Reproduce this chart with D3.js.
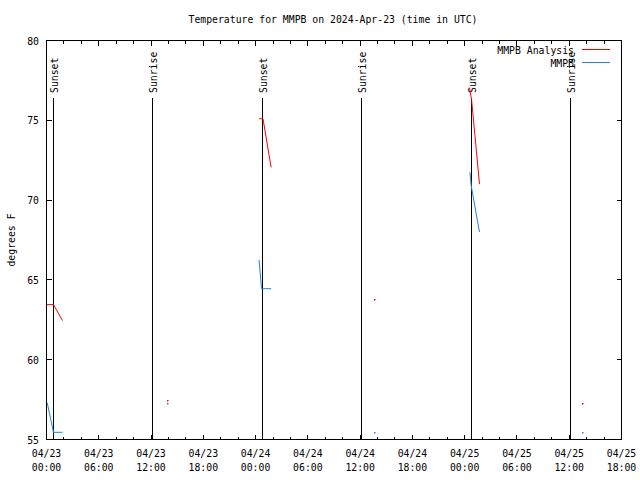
<!DOCTYPE html>
<html>
<head>
<meta charset="utf-8">
<script src="https://cdn.jsdelivr.net/npm/d3@7"></script>
<style>
  html, body { margin: 0; padding: 0; background: #fff; }
  svg { display: block; }
  text { font-family: "DejaVu Sans Mono", "Liberation Mono", monospace; font-size: 9.8px; fill: #000; }
</style>
</head>
<body>
<svg id="chart" width="640" height="480"></svg>
<script>
// ---- data ----
const titleText = "Temperature for MMPB on 2024-Apr-23 (time in UTC)";
const yLabel = "degrees F";
const seriesNames = ["MMPB Analysis", "MMPB"];
const seriesColors = ["#ff0000", "#1e82e8"];

// null marks a break in the line
const analysisTimes = ["2024-04-23T00:00","2024-04-23T00:48","2024-04-23T01:50", null,
  "2024-04-23T13:54", null,
  "2024-04-24T00:24","2024-04-24T00:51","2024-04-24T01:47", null,
  "2024-04-24T13:42", null,
  "2024-04-25T00:33","2024-04-25T00:48","2024-04-25T01:42", null,
  "2024-04-25T13:33"];
const analysisValues = [63.45, 63.45, 62.45, null,
  57.45, null,
  75.1, 75.1, 72.05, null,
  63.8, null,
  77.05, 76.25, 71.0, null,
  57.25];

const mmpbTimes = ["2024-04-23T00:05","2024-04-23T00:48","2024-04-23T01:50", null,
  "2024-04-23T13:54", null,
  "2024-04-24T00:24","2024-04-24T00:41","2024-04-24T01:47", null,
  "2024-04-24T13:42", null,
  "2024-04-25T00:36","2024-04-25T00:45","2024-04-25T01:42", null,
  "2024-04-25T13:33"];
const mmpbValues = [57.3, 55.45, 55.45, null,
  57.25, null,
  66.25, 64.45, 64.45, null,
  55.45, null,
  71.75, 70.9, 68.0, null,
  55.45];

const sunTimes = ["2024-04-23T00:47","2024-04-23T12:09","2024-04-24T00:46","2024-04-24T12:08","2024-04-25T00:45","2024-04-25T12:07"];
const sunLabels = ["Sunset","Sunrise","Sunset","Sunrise","Sunset","Sunrise"];

const xDomain = ["2024-04-23T00:00","2024-04-25T18:00"];
const yDomain = [55, 80];
const yTicks = [55, 60, 65, 70, 75, 80];

// ---- layout ----
const L = 46.5, R = 621.5, T = 40.5, B = 439.5;
const parse = s => new Date(s + ":00Z");

const svg = d3.select("#chart");
const x = d3.scaleUtc().domain(xDomain.map(parse)).range([L, R]);
const y = d3.scaleLinear().domain(yDomain).range([B, T]);

svg.append("defs").append("clipPath").attr("id", "clip")
  .append("rect").attr("x", L).attr("y", T).attr("width", R - L).attr("height", B - T);

// title
svg.append("text").attr("x", 333).attr("y", 23).attr("text-anchor", "middle").text(titleText);

// y label
svg.append("text").attr("transform", "translate(15,240) rotate(-90)")
  .attr("text-anchor", "middle").text(yLabel);

// ticks
const majorX = d3.utcHour.every(6).range(parse(xDomain[0]), d3.utcMinute.offset(parse(xDomain[1]), 1));
const minorX = d3.utcHour.every(2).range(parse(xDomain[0]), d3.utcMinute.offset(parse(xDomain[1]), 1))
  .filter(d => d.getUTCHours() % 6 !== 0);

const tg = svg.append("g").attr("stroke", "#000").attr("stroke-width", 1).attr("shape-rendering", "crispEdges");
majorX.forEach(d => {
  const xx = Math.round(x(d) - 0.5) + 0.5;
  tg.append("line").attr("x1", xx).attr("x2", xx).attr("y1", B).attr("y2", B - 5);
  tg.append("line").attr("x1", xx).attr("x2", xx).attr("y1", T).attr("y2", T + 5);
});
minorX.forEach(d => {
  const xx = Math.round(x(d) - 0.5) + 0.5;
  tg.append("line").attr("x1", xx).attr("x2", xx).attr("y1", B).attr("y2", B - 3);
  tg.append("line").attr("x1", xx).attr("x2", xx).attr("y1", T).attr("y2", T + 3);
});
yTicks.forEach(v => {
  const yy = Math.round(y(v) - 0.5) + 0.5;
  tg.append("line").attr("x1", L).attr("x2", L + 5).attr("y1", yy).attr("y2", yy);
  tg.append("line").attr("x1", R).attr("x2", R - 5).attr("y1", yy).attr("y2", yy);
});

// tick labels
const fmtD = d3.utcFormat("%m/%d"), fmtT = d3.utcFormat("%H:%M");
majorX.forEach(d => {
  svg.append("text").attr("x", x(d)).attr("y", 457).attr("text-anchor", "middle").text(fmtD(d));
  svg.append("text").attr("x", x(d)).attr("y", 471).attr("text-anchor", "middle").text(fmtT(d));
});
yTicks.forEach(v => {
  svg.append("text").attr("x", 39).attr("y", y(v) + 4).attr("text-anchor", "end").text(v);
});

// sunrise / sunset markers
const lineTopFrac = 0.855;
sunTimes.forEach((s, i) => {
  const xx = Math.round(x(parse(s)) - 0.5) + 0.5;
  const yTop = y(yDomain[0] + lineTopFrac * (yDomain[1] - yDomain[0]));
  svg.append("line").attr("x1", xx).attr("x2", xx).attr("y1", B).attr("y2", yTop)
    .attr("stroke", "#000").attr("stroke-width", 1).attr("shape-rendering", "crispEdges");
  svg.append("text").attr("transform", `translate(${xx + 4},93) rotate(-90)`)
    .attr("text-anchor", "start").text(sunLabels[i]);
});

// series
function segments(times, values) {
  const segs = []; let cur = [];
  times.forEach((t, i) => {
    if (t === null || values[i] === null) { if (cur.length) segs.push(cur); cur = []; }
    else cur.push([parse(t), values[i]]);
  });
  if (cur.length) segs.push(cur);
  return segs;
}
const plot = svg.append("g").attr("clip-path", "url(#clip)");
const line = d3.line().x(d => x(d[0])).y(d => y(d[1]));
[[analysisTimes, analysisValues], [mmpbTimes, mmpbValues]].forEach(([ts, vs], k) => {
  segments(ts, vs).forEach(seg => {
    if (seg.length === 1) {
      plot.append("rect").attr("x", Math.floor(x(seg[0][0]))).attr("y", Math.floor(y(seg[0][1])))
        .attr("width", 1.5).attr("height", 1.5).attr("fill", seriesColors[k]);
    } else {
      plot.append("path").attr("d", line(seg)).attr("fill", "none")
        .attr("stroke", seriesColors[k]).attr("stroke-width", 1);
    }
  });
});

// border
svg.append("rect").attr("x", L).attr("y", T).attr("width", R - L).attr("height", B - T)
  .attr("fill", "none").attr("stroke", "#000").attr("stroke-width", 1).attr("shape-rendering", "crispEdges");

// legend
seriesNames.forEach((n, i) => {
  const ly = 49.5 + i * 13;
  svg.append("text").attr("x", 574).attr("y", ly + 4).attr("text-anchor", "end").text(n);
  svg.append("line").attr("x1", 582).attr("x2", 610).attr("y1", ly).attr("y2", ly)
    .attr("stroke", seriesColors[i]).attr("stroke-width", 1).attr("shape-rendering", "crispEdges");
});
</script>
</body>
</html>
